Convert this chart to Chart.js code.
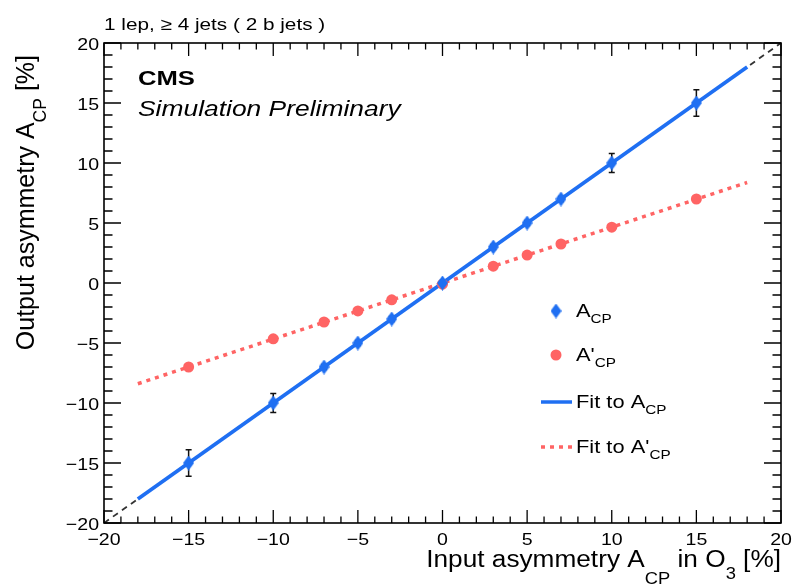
<!DOCTYPE html>
<html>
<head>
<meta charset="utf-8">
<script src="https://cdn.jsdelivr.net/npm/chart.js@4.4.1/dist/chart.umd.min.js"></script>
<style>
  html, body { margin: 0; padding: 0; background: #fff; }
  canvas { display: block; }
</style>
</head>
<body>
<canvas id="chart" width="794" height="584"></canvas>
<script>
// values
const inputAsym = [-15, -10, -7, -5, -3, 0, 3, 5, 7, 10, 15];
const outputAcp = [-15.0, -10.0, -7.0, -5.0, -3.0, 0.0, 3.0, 5.0, 7.0, 10.0, 15.0];
const outputAcpErr = [1.1, 0.8, 0.2, 0.2, 0.2, 0.2, 0.2, 0.2, 0.2, 0.8, 1.1];
const outputAcpPrime = [-7.0, -4.65, -3.25, -2.33, -1.4, -0.1, 1.4, 2.33, 3.25, 4.65, 7.0];
const fitRange = [-18, 18];
const diagonalRange = [-20, 20];
const axisMin = -20;
const axisMax = 20;
const majorStep = 5;
const minorStep = 1;

const BLUE = "#1f6ff2";
const RED = "#ff6464";
const FONT = '"Liberation Sans", Arial, Helvetica, sans-serif';

const linearFit = (xs, ys) => {
    const n = xs.length;
    const mx = xs.reduce((a, b) => a + b, 0) / n;
    const my = ys.reduce((a, b) => a + b, 0) / n;
    let sxy = 0, sxx = 0;
    xs.forEach((x, i) => {
        sxy += (x - mx) * (ys[i] - my);
        sxx += (x - mx) * (x - mx);
    });
    const slope = sxy / sxx;
    return { slope, intercept: my - slope * mx };
};

const fitA = linearFit(inputAsym, outputAcp);
const fitAPrime = linearFit(inputAsym, outputAcpPrime);
const fitPoints = (fit) => fitRange.map((x) => ({ x, y: fit.intercept + fit.slope * x }));

const makeDiamond = (w, h, color) => {
    const c = document.createElement("canvas");
    c.width = w;
    c.height = h;
    const g = c.getContext("2d");
    g.fillStyle = color;
    g.beginPath();
    g.moveTo(w / 2, 0);
    g.lineTo(w, h / 2);
    g.lineTo(w / 2, h);
    g.lineTo(0, h / 2);
    g.closePath();
    g.fill();
    return c;
};
const diamond = makeDiamond(11, 15, BLUE);

// text with subscripts, stretched sideways like the original
const drawRich = (ctx, parts, x, y, size, opts = {}) => {
    const { align = "left", stretch = 1, style = "", color = "#000", subOffset = size * 0.35 } = opts;
    const font = (sz) => `${style} ${sz}px ${FONT}`;
    const subSize = size * 0.7;
    const widths = parts.map((p) => {
        ctx.font = font(p.sub ? subSize : size);
        return ctx.measureText(p.t).width;
    });
    const total = widths.reduce((a, b) => a + b, 0);
    ctx.save();
    ctx.translate(x, y);
    ctx.scale(stretch, 1);
    let cx = align === "right" ? -total : align === "center" ? -total / 2 : 0;
    ctx.fillStyle = color;
    ctx.textAlign = "left";
    ctx.textBaseline = "alphabetic";
    parts.forEach((p, i) => {
        ctx.font = font(p.sub ? subSize : size);
        ctx.fillText(p.t, cx, p.sub ? (p.off ?? subOffset) : 0);
        cx += widths[i];
    });
    ctx.restore();
};

const fmtTick = (v) => (v < 0 ? "\u2212" + Math.abs(v) : String(v));

const errorBars = {
    id: "errorBars",
    beforeDatasetsDraw(chart) {
        const { ctx, scales: { x, y } } = chart;
        ctx.save();
        ctx.strokeStyle = "#111";
        ctx.lineWidth = 1.5;
        inputAsym.forEach((xv, i) => {
            const px = x.getPixelForValue(xv);
            const top = y.getPixelForValue(outputAcp[i] + outputAcpErr[i]);
            const bot = y.getPixelForValue(outputAcp[i] - outputAcpErr[i]);
            ctx.beginPath();
            ctx.moveTo(px, top);
            ctx.lineTo(px, bot);
            ctx.moveTo(px - 3, top);
            ctx.lineTo(px + 3, top);
            ctx.moveTo(px - 3, bot);
            ctx.lineTo(px + 3, bot);
            ctx.stroke();
        });
        ctx.restore();
    },
};

const rootFrame = {
    id: "rootFrame",
    afterDraw(chart) {
        const { ctx, chartArea: a, scales: { x, y } } = chart;
        ctx.save();
        ctx.strokeStyle = "#000";
        ctx.lineWidth = 1.6;
        ctx.strokeRect(a.left, a.top, a.right - a.left, a.bottom - a.top);
        ctx.lineWidth = 1.3;
        ctx.beginPath();
        for (let v = axisMin; v <= axisMax; v += minorStep) {
            const major = v % majorStep === 0;
            const px = x.getPixelForValue(v);
            const lx = major ? 13 : 6.5;
            ctx.moveTo(px, a.bottom);
            ctx.lineTo(px, a.bottom - lx);
            ctx.moveTo(px, a.top);
            ctx.lineTo(px, a.top + lx);
            const py = y.getPixelForValue(v);
            const ly = major ? 17 : 8.5;
            ctx.moveTo(a.left, py);
            ctx.lineTo(a.left + ly, py);
            ctx.moveTo(a.right, py);
            ctx.lineTo(a.right - ly, py);
        }
        ctx.stroke();

        // tick labels from the scales
        x.ticks.forEach((t) => {
            drawRich(ctx, [{ t: fmtTick(t.value) }], x.getPixelForValue(t.value), 545, 17,
                { align: "center", stretch: 1.15 });
        });
        y.ticks.forEach((t) => {
            drawRich(ctx, [{ t: fmtTick(t.value) }], 99, y.getPixelForValue(t.value) + 6.5, 17,
                { align: "right", stretch: 1.15 });
        });

        // axis titles
        drawRich(ctx, [
            { t: "Input asymmetry A" }, { t: "CP", sub: true },
            { t: " in O" }, { t: "3", sub: true, off: 12 }, { t: " [%]" },
        ], a.right, 567, 23, { align: "right", stretch: 1.14, subOffset: 17 });

        ctx.save();
        ctx.translate(34, 55);
        ctx.rotate(-Math.PI / 2);
        drawRich(ctx, [{ t: "Output asymmetry A" }, { t: "CP", sub: true }, { t: " [%]" }],
            0, 0, 25, { align: "right", subOffset: 12 });
        ctx.restore();

        // header texts
        drawRich(ctx, [{ t: "1 lep, \u2265 4 jets ( 2 b jets )" }], 104, 30, 17, { stretch: 1.22 });
        drawRich(ctx, [{ t: "CMS" }], 138, 85, 21, { stretch: 1.22, style: "bold" });
        drawRich(ctx, [{ t: "Simulation Preliminary" }], 138, 116, 22, { stretch: 1.2, style: "italic" });

        // legend
        const lx = 556, tx = 576;
        const rows = [311, 355, 402, 447];
        ctx.drawImage(diamond, lx - diamond.width / 2, rows[0] - diamond.height / 2);
        ctx.fillStyle = RED;
        ctx.beginPath();
        ctx.arc(lx, rows[1], 5.5, 0, Math.PI * 2);
        ctx.fill();
        ctx.lineWidth = 3.5;
        ctx.strokeStyle = BLUE;
        ctx.beginPath();
        ctx.moveTo(541, rows[2]);
        ctx.lineTo(572, rows[2]);
        ctx.stroke();
        ctx.strokeStyle = RED;
        ctx.setLineDash([4, 5]);
        ctx.beginPath();
        ctx.moveTo(541, rows[3]);
        ctx.lineTo(572, rows[3]);
        ctx.stroke();
        ctx.setLineDash([]);
        const lg = { stretch: 1.15, subOffset: 6 };
        drawRich(ctx, [{ t: "A" }, { t: "CP", sub: true }], tx, rows[0] + 6, 19, lg);
        drawRich(ctx, [{ t: "A'" }, { t: "CP", sub: true }], tx, rows[1] + 6, 19, lg);
        drawRich(ctx, [{ t: "Fit to A" }, { t: "CP", sub: true }], tx, rows[2] + 6, 19, lg);
        drawRich(ctx, [{ t: "Fit to A'" }, { t: "CP", sub: true }], tx, rows[3] + 6, 19, lg);
        ctx.restore();
    },
};

const axisOpts = (fitFn) => ({
    type: "linear",
    min: axisMin,
    max: axisMax,
    ticks: { display: false, stepSize: majorStep },
    grid: { display: false },
    border: { display: false },
    afterFit: fitFn,
});

new Chart(document.getElementById("chart"), {
    type: "scatter",
    data: {
        datasets: [
            {
                label: "A_CP",
                data: inputAsym.map((x, i) => ({ x, y: outputAcp[i] })),
                pointStyle: diamond,
                backgroundColor: BLUE,
                borderColor: BLUE,
                order: 0,
            },
            {
                label: "A'_CP",
                data: inputAsym.map((x, i) => ({ x, y: outputAcpPrime[i] })),
                pointStyle: "circle",
                pointRadius: 5.5,
                backgroundColor: RED,
                borderColor: RED,
                borderWidth: 0,
                order: 1,
            },
            {
                label: "Fit to A_CP",
                data: fitPoints(fitA),
                showLine: true,
                pointRadius: 0,
                borderColor: BLUE,
                borderWidth: 3.8,
                order: 2,
            },
            {
                label: "Fit to A'_CP",
                data: fitPoints(fitAPrime),
                showLine: true,
                pointRadius: 0,
                borderColor: RED,
                borderWidth: 3.5,
                borderDash: [4, 5],
                order: 3,
            },
            {
                label: "y = x",
                data: diagonalRange.map((x) => ({ x, y: x })),
                showLine: true,
                pointRadius: 0,
                borderColor: "#333",
                borderWidth: 1.8,
                borderDash: [6, 5],
                order: 4,
            },
        ],
    },
    options: {
        responsive: false,
        devicePixelRatio: 1,
        animation: false,
        layout: { padding: { top: 43, right: 13, left: 0, bottom: 0 } },
        plugins: {
            legend: { display: false },
            tooltip: { enabled: false },
        },
        scales: {
            x: axisOpts((s) => { s.height = 61; }),
            y: axisOpts((s) => { s.width = 104; }),
        },
    },
    plugins: [errorBars, rootFrame],
});
</script>
</body>
</html>
